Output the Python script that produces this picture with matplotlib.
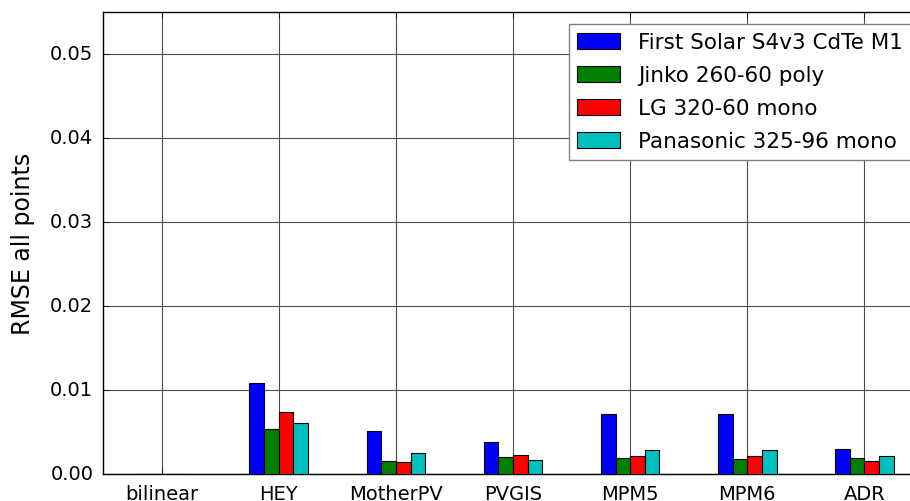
import numpy as np
import matplotlib
matplotlib.use('Agg')
import matplotlib.pyplot as plt

plt.style.use('classic')

methods = ['bilinear', 'HEY', 'MotherPV', 'PVGIS', 'MPM5', 'MPM6', 'ADR']
modules = ['First Solar S4v3 CdTe M1', 'Jinko 260-60 poly',
           'LG 320-60 mono', 'Panasonic 325-96 mono']
colors = ['b', 'g', 'r', 'c']

rmse_first_solar = [0.0, 0.0108, 0.0051, 0.0038, 0.0072, 0.0072, 0.0030]
rmse_jinko = [0.0, 0.0054, 0.0015, 0.0020, 0.0019, 0.0018, 0.0019]
rmse_lg = [0.0, 0.0074, 0.0014, 0.0023, 0.0021, 0.0021, 0.0015]
rmse_panasonic = [0.0, 0.0061, 0.0025, 0.0017, 0.0029, 0.0029, 0.0021]
series = [rmse_first_solar, rmse_jinko, rmse_lg, rmse_panasonic]

fig = plt.figure(figsize=(9.1, 5.02), dpi=100, facecolor='white')
# axes runs past the right edge, like the cropped original
ax = fig.add_axes([103/910., 27/502., 820/910., 462/502.])

x = np.arange(len(methods))
w = 0.125
for i, (vals, c, lab) in enumerate(zip(series, colors, modules)):
    ax.bar(x + (i - 1.5) * w, vals, w, color=c, edgecolor='k',
           linewidth=0.8, label=lab, align='center', zorder=3)

ax.set_xlim(-0.5, 6.5)
ax.set_ylim(0, 0.055)
ax.set_yticks([0.0, 0.01, 0.02, 0.03, 0.04, 0.05])
ax.set_xticks(x)
ax.set_xticklabels(methods)
ax.tick_params(labelsize=14, pad=7)
ax.set_ylabel('RMSE all points', fontsize=17, labelpad=11)
ax.grid(True, linestyle='-', color='0.3', linewidth=0.8, zorder=0)
ax.set_axisbelow(True)

leg = ax.legend(loc='upper right', fontsize=15.5, fancybox=False,
                borderaxespad=0.55, handlelength=2.0, handleheight=0.75,
                labelspacing=0.6, handletextpad=0.8)
leg.get_frame().set_edgecolor('0.5')

fig.savefig('out.png', dpi=100, facecolor='white')
